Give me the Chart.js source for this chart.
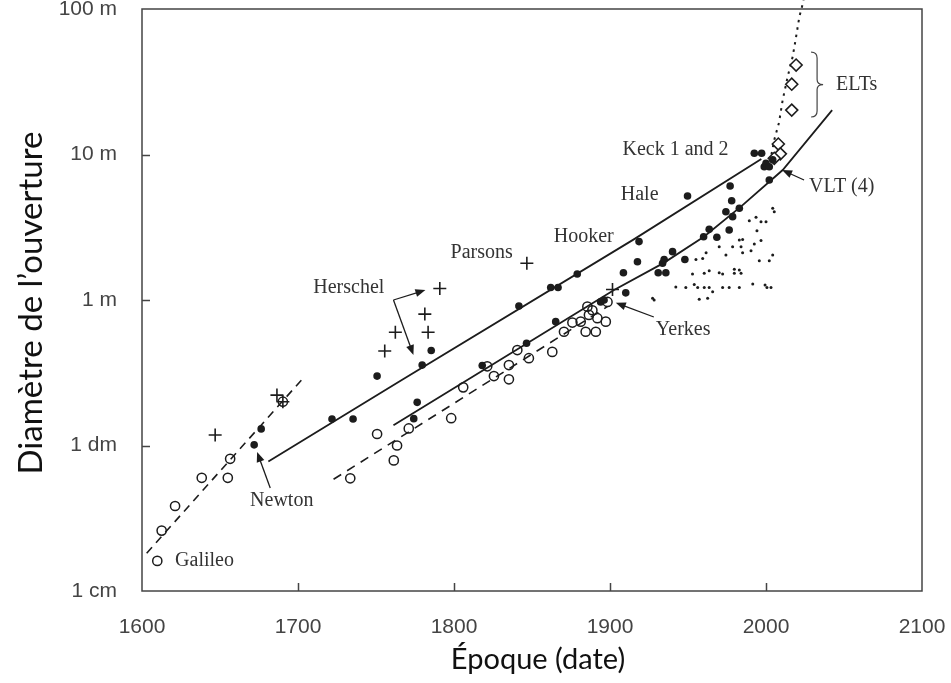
<!DOCTYPE html>
<html lang="fr">
<head>
<meta charset="utf-8">
<title>Diamètre de l'ouverture des télescopes</title>
<script src="https://cdn.jsdelivr.net/npm/chart.js@4.4.1/dist/chart.umd.min.js"></script>
<style>
    html, body { margin: 0; padding: 0; background: #fff; }
</style>
</head>
<body>
<canvas id="grafica" width="951" height="683"></canvas>
<script>
// graduations
const anneesTicks = [1600, 1700, 1800, 1900, 2000, 2100];
const diametresTicks = [0.01, 0.1, 1, 10, 100];
const diametresLabels = ["1 cm", "1 dm", "1 m", "10 m", "100 m"];
const titreX = "Époque (date)";
const titreY = "Diamètre de l’ouverture";

// lunettes (cercles vides)
const lunettesAnnee = [1609.8, 1612.6, 1621.2, 1638.3, 1655.0, 1656.5, 1690.3, 1733.5, 1750.7, 1761.4, 1763.5, 1771.0, 1798.2, 1805.9, 1821.3, 1825.6, 1835.2, 1835.2, 1840.6, 1848.0, 1863.0, 1870.5, 1875.9, 1881.2, 1884.4, 1885.5, 1886.5, 1888.7, 1890.9, 1891.9, 1897.3, 1898.4];
const lunettesDiam = [0.0161, 0.026, 0.0384, 0.060, 0.060, 0.081, 0.20, 0.0595, 0.12, 0.079, 0.10, 0.131, 0.154, 0.251, 0.35, 0.30, 0.357, 0.285, 0.453, 0.398, 0.44, 0.605, 0.70, 0.71, 0.605, 0.90, 0.79, 0.85, 0.605, 0.75, 0.71, 0.97];

// télescopes (points pleins)
const telescopesAnnee = [1671.9, 1676.4, 1721.8, 1735.3, 1750.7, 1774.2, 1776.4, 1779.6, 1785.4, 1818.1, 1841.6, 1846.5, 1862.0, 1865.2, 1866.7, 1879.0, 1894.0, 1896.2, 1908.6, 1910.1, 1917.6, 1918.6, 1930.9, 1933.7, 1934.7, 1935.8, 1940.1, 1948.0, 1949.7, 1960.0, 1963.6, 1968.5, 1974.3, 1976.4, 1977.0, 1978.0, 1978.6, 1982.9, 1992.5, 1997.2, 1998.9, 2000.0, 2002.1, 2004.3, 2002.1];
const telescopesDiam = [0.101, 0.13, 0.152, 0.152, 0.30, 0.153, 0.198, 0.357, 0.45, 0.355, 0.91, 0.504, 1.22, 0.71, 1.22, 1.51, 0.97, 1.0, 1.54, 1.12, 1.83, 2.52, 1.54, 1.79, 1.90, 1.54, 2.15, 1.90, 5.19, 2.72, 3.06, 2.70, 4.04, 3.03, 6.07, 4.81, 3.74, 4.27, 10.2, 10.2, 8.24, 8.7, 8.24, 9.2, 6.68];

// miroirs métalliques (croix)
const speculumAnnee = [1646.9, 1686.5, 1690.3, 1755.6, 1762.4, 1781.3, 1783.4, 1790.9, 1846.7, 1901.6];
const speculumDiam = [0.118, 0.222, 0.20, 0.446, 0.60, 0.80, 0.60, 1.20, 1.79, 1.18];

// ELTs et grands télescopes récents (losanges)
const eltAnnee = [2019.3, 2016.5, 2016.5, 2007.9, 2009.2, 2005.3];
const eltDiam = [41.2, 30.4, 20.2, 11.8, 10.1, 9.42];

// petits instruments (petits points)
const petitsAnnee = [2004.3, 2005.3, 1989.3, 1993.6, 1996.8, 2000.0, 1994.2, 1982.9, 1985.0, 1992.5, 1996.8, 1970.0, 1978.6, 1984.0, 1961.6, 1985.0, 1990.4, 1974.3, 2004.3, 1995.7, 2002.1, 1955.1, 1959.4, 1963.6, 1960.4, 1970.0, 1972.2, 1979.7, 1979.7, 1984.0, 1982.9, 1952.9, 1942.2, 1948.6, 1954.0, 1956.2, 1960.4, 1963.6, 1965.8, 1972.2, 1976.4, 1982.9, 1991.5, 1999.4, 2000.6, 2003.2, 1927.3, 1957.2, 1962.6, 1928.3];
const petitsDiam = [4.27, 4.04, 3.51, 3.70, 3.45, 3.45, 2.99, 2.58, 2.61, 2.43, 2.56, 2.32, 2.32, 2.32, 2.11, 2.11, 2.18, 2.04, 2.04, 1.86, 1.86, 1.90, 1.93, 1.59, 1.53, 1.54, 1.51, 1.63, 1.53, 1.53, 1.61, 1.51, 1.23, 1.22, 1.28, 1.22, 1.22, 1.22, 1.14, 1.22, 1.22, 1.22, 1.29, 1.27, 1.22, 1.22, 1.03, 1.01, 1.03, 1.0];

// tendances
const tendanceAncAnnee = [1603, 1703.4];
const tendanceAncDiam = [0.0182, 0.291];
const tendanceHautAnnee = [1681, 1766, 1915, 1997];
const tendanceHautDiam = [0.0775, 0.28, 2.6, 9.3];
const tendanceBasAnnee = [1761.2, 1902.6, 1934.5, 1960.2, 1983.9, 2010.7, 2042.4];
const tendanceBasDiam = [0.138, 1.17, 1.80, 2.72, 4.38, 7.82, 20.2];
const tendanceLunAnnee = [1722.8, 1898.3];
const tendanceLunDiam = [0.0586, 0.90];
const tendanceEltAnnee = [2003.5, 2005.3, 2008.3, 2010.7, 2013.9, 2017.1, 2019.3, 2021.4, 2023.6, 2024.2];
const tendanceEltDiam = [10.0, 12.6, 16.5, 23.7, 34.3, 47, 64.5, 88.6, 109, 118];

// étiquettes (position en année / diamètre)
const notes = [
    { texte: "Galileo", annee: 1621.2, diam: 0.0161 },
    { texte: "Newton", annee: 1669.3, diam: 0.0415 },
    { texte: "Herschel", annee: 1709.8, diam: 1.209 },
    { texte: "Parsons", annee: 1797.8, diam: 2.10 },
    { texte: "Hooker", annee: 1863.9, diam: 2.71 },
    { texte: "Hale", annee: 1906.9, diam: 5.27 },
    { texte: "Keck 1 and 2", annee: 1908, diam: 10.74 },
    { texte: "VLT (4)", annee: 2027.6, diam: 5.98 },
    { texte: "Yerkes", annee: 1929.4, diam: 0.622 },
    { texte: "ELTs", annee: 2044.9, diam: 30.0 }
];
const fleches = [
    { de: [1682.2, 0.051], a: [1673.8, 0.0902] },
    { de: [1761.2, 1.0], a: [1781.7, 1.17] },
    { de: [1761.2, 1.0], a: [1774.0, 0.419] },
    { de: [1928.1, 0.764], a: [1903.7, 0.958] },
    { de: [2024.4, 6.68], a: [2010.3, 7.82] }
];
const accolade = { annee: 2028.9, largeur: 7.7, haut: 50.6, bas: 18.1 };

function points(xs, ys){
    return xs.map((x, i) => ({ x: x, y: ys[i] }));
}

const encre = '#1c1c1c';

function tendance(xs, ys, tirets, epaisseur){
    return {
        data: points(xs, ys),
        showLine: true,
        borderColor: encre,
        borderWidth: epaisseur,
        borderDash: tirets,
        pointRadius: 0,
        fill: false
    };
}

// pas de marge automatique autour des échelles : la mise en page fixe le cadre
function sansMarge(s){
    s.paddingLeft = 0;
    s.paddingRight = 0;
    s.paddingTop = 0;
    s.paddingBottom = 0;
}

const habillage = {
    id: 'habillage',
    afterDatasetsDraw(chart){
        const { ctx, chartArea: a, scales: { x, y } } = chart;
        ctx.save();

        // cadre et graduations vers l'intérieur
        ctx.strokeStyle = '#444';
        ctx.lineWidth = 1.5;
        ctx.strokeRect(a.left, a.top, a.right - a.left, a.bottom - a.top);
        ctx.beginPath();
        anneesTicks.slice(1, -1).forEach(v => {
            const px = Math.round(x.getPixelForValue(v)) + 0.5;
            ctx.moveTo(px, a.bottom);
            ctx.lineTo(px, a.bottom - 8);
        });
        diametresTicks.slice(1, -1).forEach(v => {
            const py = Math.round(y.getPixelForValue(v)) + 0.5;
            ctx.moveTo(a.left, py);
            ctx.lineTo(a.left + 8, py);
        });
        ctx.stroke();

        // noms des instruments
        ctx.fillStyle = '#333';
        ctx.font = '20px "Liberation Serif", "Times New Roman", serif';
        ctx.textAlign = 'left';
        ctx.textBaseline = 'middle';
        notes.forEach(n => {
            ctx.fillText(n.texte, x.getPixelForValue(n.annee), y.getPixelForValue(n.diam));
        });

        // flèches
        ctx.strokeStyle = encre;
        ctx.fillStyle = encre;
        ctx.lineWidth = 1.3;
        fleches.forEach(f => {
            const x0 = x.getPixelForValue(f.de[0]), y0 = y.getPixelForValue(f.de[1]);
            const x1 = x.getPixelForValue(f.a[0]), y1 = y.getPixelForValue(f.a[1]);
            const ang = Math.atan2(y1 - y0, x1 - x0);
            ctx.beginPath();
            ctx.moveTo(x0, y0);
            ctx.lineTo(x1 - 6 * Math.cos(ang), y1 - 6 * Math.sin(ang));
            ctx.stroke();
            ctx.beginPath();
            ctx.moveTo(x1, y1);
            ctx.lineTo(x1 - 10 * Math.cos(ang) + 4 * Math.sin(ang), y1 - 10 * Math.sin(ang) - 4 * Math.cos(ang));
            ctx.lineTo(x1 - 10 * Math.cos(ang) - 4 * Math.sin(ang), y1 - 10 * Math.sin(ang) + 4 * Math.cos(ang));
            ctx.closePath();
            ctx.fill();
        });

        // accolade des ELTs
        const bx = x.getPixelForValue(accolade.annee);
        const bw = x.getPixelForValue(accolade.annee + accolade.largeur) - bx;
        const bt = y.getPixelForValue(accolade.haut);
        const bb = y.getPixelForValue(accolade.bas);
        const bm = (bt + bb) / 2;
        const mx = bx + bw / 2;
        ctx.lineWidth = 1.2;
        ctx.strokeStyle = '#444';
        ctx.beginPath();
        ctx.moveTo(bx, bt);
        ctx.quadraticCurveTo(mx, bt, mx, bt + 6);
        ctx.lineTo(mx, bm - 5);
        ctx.quadraticCurveTo(mx, bm, bx + bw, bm);
        ctx.quadraticCurveTo(mx, bm, mx, bm + 5);
        ctx.lineTo(mx, bb - 6);
        ctx.quadraticCurveTo(mx, bb, bx, bb);
        ctx.stroke();

        // titres des axes
        ctx.fillStyle = '#111';
        ctx.textAlign = 'center';
        ctx.textBaseline = 'middle';
        ctx.font = '29px Lato, "Open Sans", sans-serif';
        ctx.fillText(titreX, 538, 660);
        ctx.translate(31, 303);
        ctx.rotate(-Math.PI / 2);
        ctx.font = '33px Lato, "Open Sans", sans-serif';
        ctx.fillText(titreY, 0, 0);
        ctx.restore();
    }
};

const policeTicks = { family: '"Liberation Sans", Arial, sans-serif', size: 21 };

new Chart(document.getElementById('grafica'), {
    type: 'scatter',
    data: {
        datasets: [
            {
                data: points(lunettesAnnee, lunettesDiam),
                pointStyle: 'circle',
                pointRadius: 4.6,
                pointBorderWidth: 1.5,
                pointBorderColor: encre,
                pointBackgroundColor: 'rgba(0,0,0,0)'
            },
            {
                data: points(telescopesAnnee, telescopesDiam),
                pointStyle: 'circle',
                pointRadius: 3.8,
                pointBorderWidth: 0,
                pointBackgroundColor: encre
            },
            {
                data: points(speculumAnnee, speculumDiam),
                pointStyle: 'cross',
                pointRadius: 6.5,
                pointBorderWidth: 1.6,
                pointBorderColor: encre
            },
            {
                data: points(eltAnnee, eltDiam),
                pointStyle: 'rectRot',
                pointRadius: 6,
                pointBorderWidth: 1.6,
                pointBorderColor: encre,
                pointBackgroundColor: '#fff'
            },
            {
                data: points(petitsAnnee, petitsDiam),
                pointStyle: 'circle',
                pointRadius: 1.5,
                pointBorderWidth: 0,
                pointBackgroundColor: encre
            },
            tendance(tendanceAncAnnee, tendanceAncDiam, [8, 6], 1.6),
            tendance(tendanceHautAnnee, tendanceHautDiam, [], 1.8),
            tendance(tendanceBasAnnee, tendanceBasDiam, [], 1.8),
            tendance(tendanceLunAnnee, tendanceLunDiam, [9, 7], 1.6),
            Object.assign(tendance(tendanceEltAnnee, tendanceEltDiam, [2.5, 5], 2), { clip: false })
        ]
    },
    options: {
        responsive: false,
        animation: false,
        layout: { padding: { top: 9, right: 29, left: 0, bottom: 0 } },
        plugins: {
            legend: { display: false },
            tooltip: { enabled: false }
        },
        scales: {
            x: {
                type: 'linear',
                min: 1600,
                max: 2100,
                grid: { display: false },
                border: { display: false },
                afterBuildTicks: s => { s.ticks = anneesTicks.map(v => ({ value: v })); },
                afterFit: s => { s.height = 92; sansMarge(s); },
                ticks: {
                    color: '#444',
                    font: policeTicks,
                    padding: 16,
                    maxRotation: 0,
                    autoSkip: false,
                    callback: v => String(v)
                }
            },
            y: {
                type: 'logarithmic',
                min: 0.01,
                max: 100,
                grid: { display: false },
                border: { display: false },
                afterBuildTicks: s => { s.ticks = diametresTicks.map(v => ({ value: v })); },
                afterFit: s => { s.width = 142; sansMarge(s); },
                ticks: {
                    color: '#444',
                    font: policeTicks,
                    padding: 17,
                    autoSkip: false,
                    callback: (v, i) => diametresLabels[i]
                }
            }
        }
    },
    plugins: [habillage]
});
</script>
</body>
</html>
